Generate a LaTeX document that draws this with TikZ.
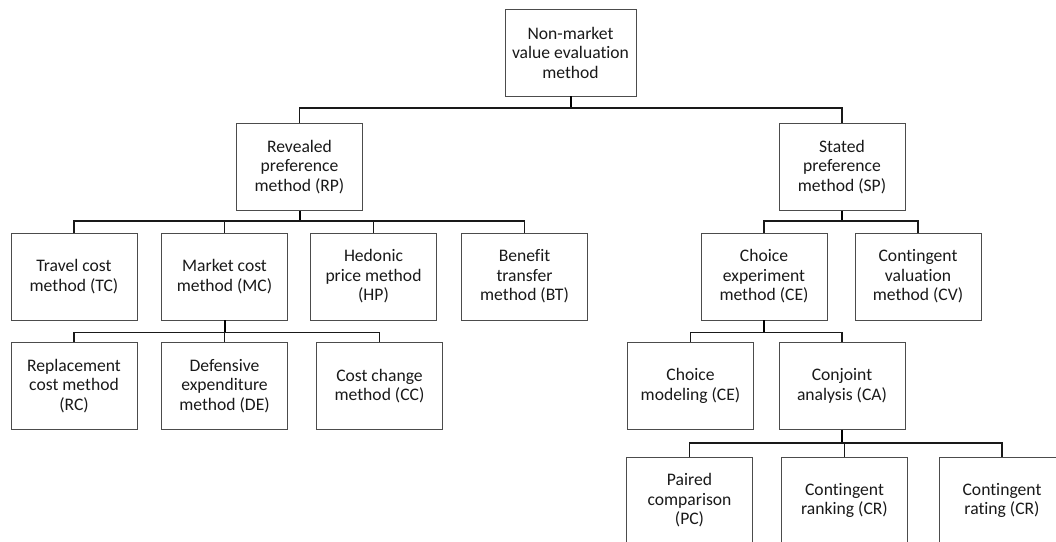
\documentclass[tikz,border=0pt]{standalone}
\usepackage{fontspec}
\setmainfont{Carlito}[Ligatures={NoCommon}]
\begin{document}
\begin{tikzpicture}[x=1pt,y=1pt,
  box/.style={draw=black!70, line width=0.9pt, minimum width=126pt, minimum height=87pt,
    align=center, inner sep=2pt, text=black!90,
    font=\fontsize{17.6}{19.5}\selectfont},
  stem/.style={line width=2pt, black},
  link/.style={line width=1.3pt, black!90}]
\useasboundingbox (0,0) rectangle (1056,-541);
\begin{scope}
\clip (0,0) rectangle (1056,-541);
% level 0 and 1
\node[box, minimum width=131pt] (root) at (570.5,-52.5) {Non-market\\value evaluation\\method};
\node[box] (rp) at (299.5,-167) {Revealed\\preference\\method (RP)};
\node[box] (sp) at (842,-167) {Stated\\preference\\method (SP)};
% level 2
\node[box] (tc) at (74,-276.5) {Travel cost\\method (TC)};
\node[box] (mc) at (224.5,-276.5) {Market cost\\method (MC)};
\node[box] (hp) at (373.5,-276.5) {Hedonic\\price method\\(HP)};
\node[box] (bt) at (524.5,-276.5) {Benefit\\transfer\\method (BT)};
\node[box] (ce) at (764,-276.5) {Choice\\experiment\\method (CE)};
\node[box] (cv) at (918,-276.5) {Contingent\\valuation\\method (CV)};
% level 3
\node[box] (rc) at (74,-386) {Replacement\\cost method\\(RC)};
\node[box] (de) at (224.5,-386) {Defensive\\expenditure\\method (DE)};
\node[box] (cc) at (379.5,-386) {Cost change\\method (CC)};
\node[box] (cm) at (690.5,-386) {Choice\\modeling (CE)};
\node[box] (ca) at (842,-386) {Conjoint\\analysis (CA)};
% level 4
\node[box] (pc) at (689.5,-500.5) {Paired\\comparison\\(PC)};
\node[box] (cr) at (844.5,-500.5) {Contingent\\ranking (CR)};
\node[box] (crt) at (1002,-500.5) {Contingent\\rating (CR)};
\end{scope}
% bus heights
\coordinate (b0) at (0,-108);
\coordinate (b1) at (0,-221);
\coordinate (b2) at (0,-332.5);
\coordinate (b3) at (0,-443);
% root
\draw[stem] (root.south) -- (root.south |- b0);
\foreach \c in {rp,sp} \draw[link] (root.south |- b0) -| (\c.north);
% RP
\draw[stem] (rp.south) -- (rp.south |- b1);
\foreach \c in {tc,mc,hp,bt} \draw[link] (rp.south |- b1) -| (\c.north);
% SP
\draw[stem] (sp.south) -- (sp.south |- b1);
\foreach \c in {ce,cv} \draw[link] (sp.south |- b1) -| (\c.north);
% MC
\draw[stem] (mc.south) -- (mc.south |- b2);
\foreach \c in {rc,de,cc} \draw[link] (mc.south |- b2) -| (\c.north);
% CE
\draw[stem] (ce.south) -- (ce.south |- b2);
\foreach \c in {cm,ca} \draw[link] (ce.south |- b2) -| (\c.north);
% CA
\draw[stem] (ca.south) -- (ca.south |- b3);
\foreach \c in {pc,cr,crt} \draw[link] (ca.south |- b3) -| (\c.north);
\end{tikzpicture}
\end{document}
